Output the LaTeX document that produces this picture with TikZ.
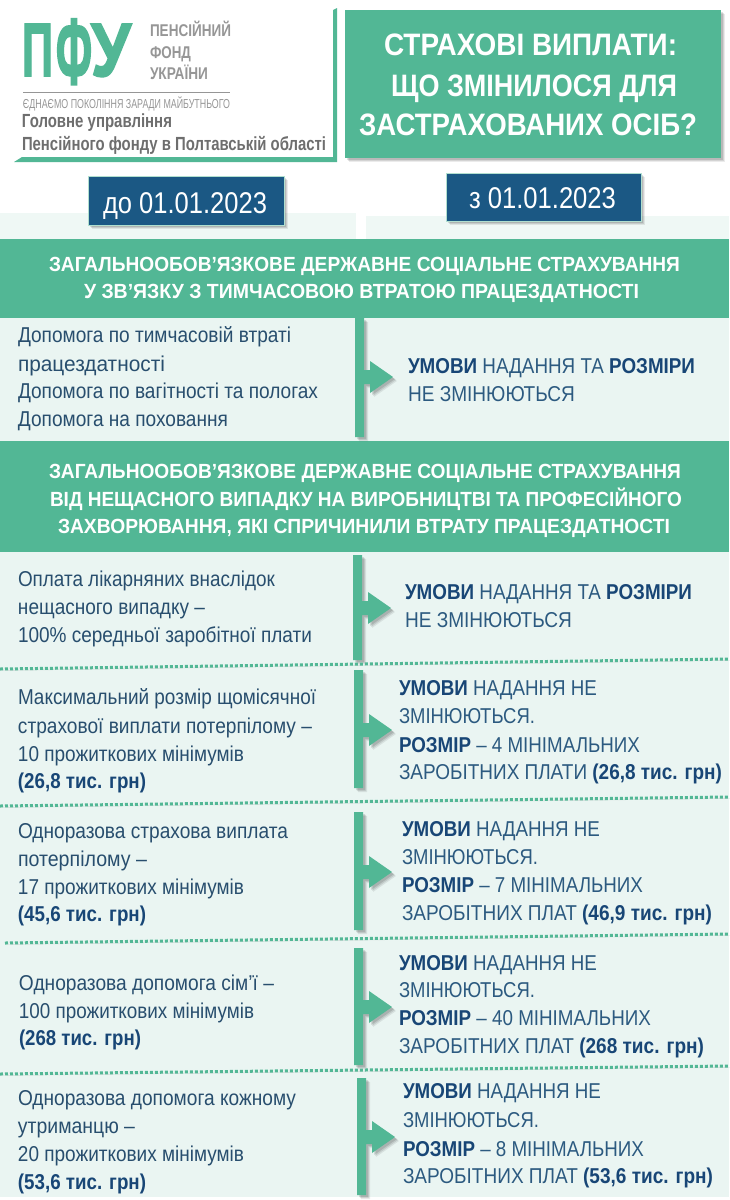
\documentclass[tikz,border=0pt]{standalone}
\usepackage{graphicx}
\usepackage{fontspec}
\setmainfont{Liberation Sans}
\newfontfamily\logofont[FakeBold=2.5]{Liberation Sans Bold}
\definecolor{pfugreen}{RGB}{82,183,149}
\definecolor{pfublue}{RGB}{27,88,132}
\definecolor{panelc}{RGB}{234,245,242}
\definecolor{paneltop}{RGB}{239,248,245}
\definecolor{leftc}{RGB}{40,78,110}
\definecolor{rightc}{RGB}{44,90,128}
\definecolor{boldc}{RGB}{24,70,118}
\definecolor{logogray}{RGB}{150,150,150}
\definecolor{logodark}{RGB}{110,110,110}
\newcommand\bl[1]{\textbf{\textcolor{boldc}{#1}}}
% one printed line: name, x, baseline y, right x, style, text
\newcommand\tline[6]{%
  \pgfmathsetmacro\tlw{#4-#2}%
  \node[txt,#5] (#1) at (#2,#3) {\resizebox{\tlw pt}{\height}{#6}};}
\tikzset{
  txt/.style={anchor=base west,inner sep=0pt,outer sep=0pt},
  lefttxt/.style={text=leftc,font=\fontsize{21.5}{24}\selectfont},
  righttxt/.style={text=rightc,font=\fontsize{21.5}{24}\selectfont},
  headtxt/.style={text=white,font=\bfseries\fontsize{20.5}{24}\selectfont},
  titletxt/.style={text=white,font=\bfseries\fontsize{31}{36}\selectfont},
  datetxt/.style={text=white,font=\fontsize{30}{34}\selectfont},
  logotxt/.style={text=logogray,font=\bfseries\fontsize{17}{20}\selectfont},
  softshadow/.style={
    preaction={fill=black,opacity=.08,transform canvas={shift={(4pt,-4pt)}}},
    preaction={fill=black,opacity=.10,transform canvas={shift={(3pt,-3pt)}}},
    preaction={fill=black,opacity=.12,transform canvas={shift={(2pt,-2pt)}}}},
  band/.style={fill=pfugreen},
  datebox/.style={fill=pfublue,draw=pfugreen!45,line width=1pt,softshadow},
  barshape/.style={fill=pfugreen,softshadow},
  dotline/.style={draw=pfugreen,line width=3pt,dash pattern=on 3pt off 2pt,
    preaction={draw=black,opacity=.12,transform canvas={shift={(1pt,-1.5pt)}}}}
}
\newcommand\barrow[4]{% bar x-left, top, bottom, arrow centre y
  \fill[barshape] (#1,#2) -- (#1+9,#2) -- (#1+9,#4-7) -- (#1+15,#4-7) -- (#1+15,#4-16)
   -- (#1+38,#4) -- (#1+15,#4+16) -- (#1+15,#4+7) -- (#1+9,#4+7) -- (#1+9,#3) -- (#1,#3) -- cycle;}
\begin{document}
\begin{tikzpicture}[x=1pt,y=-1pt]
\useasboundingbox (0,0) rectangle (729,1200);
\fill[white] (0,0) rectangle (729,1200);
% panels
\fill[paneltop] (0,213) rectangle (356,320);
\fill[paneltop] (366,216) rectangle (729,320);
\fill[panelc] (0,318) rectangle (729,1197);
% bands
\fill[band] (0,239) rectangle (729,318);
\fill[band] (0,441) rectangle (729,552);
% logo panel frame
\fill[pfugreen] (337,8) -- (337,162) -- (14,162) -- (22,157) -- (333,157) -- (333,10) -- cycle;
% title box
\fill[pfugreen,softshadow] (345,10) rectangle (721,158);
% date boxes
\fill[datebox] (88,176) rectangle (284,225);
\fill[datebox] (446,173) rectangle (641,221);
% bars with arrows
\barrow{355}{318}{437}{377}
\barrow{353}{555}{660}{608}
\barrow{354}{670}{788}{730}
\barrow{354}{812}{930}{872}
\barrow{354}{948}{1065}{1007}
\barrow{357}{1078}{1195}{1137}
% dotted dividers
\coordinate (d1a) at (0,669); \coordinate (d1b) at (729,659);
\coordinate (d2a) at (0,806); \coordinate (d2b) at (729,797);
\coordinate (d3a) at (5,943); \coordinate (d3b) at (729,934);
\coordinate (d4a) at (0,1074); \coordinate (d4b) at (729,1066);
\draw[dotline] (d1a) -- (d1b);
\draw[dotline] (d2a) -- (d2b);
\draw[dotline] (d3a) -- (d3b);
\draw[dotline] (d4a) -- (d4b);
% logo
\node[txt,text=pfugreen,font=\logofont] (logo) at (22,76) {%
  \resizebox{31pt}{52pt}{П}\hspace{3pt}\raisebox{-8pt}{\resizebox{36pt}{65pt}{Ф}}\hspace{-1pt}\resizebox{40pt}{52pt}{У}};
\tline{lg1}{150}{36}{231}{logotxt}{ПЕНСІЙНИЙ}
\tline{lg2}{150}{58}{191}{logotxt}{ФОНД}
\tline{lg3}{150}{79}{208}{logotxt}{УКРАЇНИ}
\coordinate (lgla) at (23,92); \coordinate (lglb) at (230,92);
\draw[logogray,line width=.8pt] (lgla) -- (lglb);
\tline{lg4}{23}{108}{230}{text=logogray,font=\fontsize{13}{15}\selectfont}{ЄДНАЄМО ПОКОЛІННЯ ЗАРАДИ МАЙБУТНЬОГО}
\tline{lg5}{22}{127}{172}{text=logodark,font=\bfseries\fontsize{19}{22}\selectfont}{Головне управління}
\tline{lg6}{22}{150}{326}{text=logodark,font=\bfseries\fontsize{19}{22}\selectfont}{Пенсійного фонду в Полтавській області}
% title
\tline{t1}{384}{55}{677}{titletxt}{СТРАХОВІ ВИПЛАТИ:}
\tline{t2}{391}{96}{677}{titletxt}{ЩО ЗМІНИЛОСЯ ДЛЯ}
\tline{t3}{359}{135}{697}{titletxt}{ЗАСТРАХОВАНИХ ОСІБ?}
% dates
\tline{d1}{103}{213}{267}{datetxt}{до 01.01.2023}
\tline{d2}{469}{208}{616}{datetxt}{з 01.01.2023}
% headers
\tline{h1}{49}{271}{680}{headtxt}{ЗАГАЛЬНООБОВ’ЯЗКОВЕ ДЕРЖАВНЕ СОЦІАЛЬНЕ СТРАХУВАННЯ}
\tline{h2}{84}{298}{639}{headtxt}{У ЗВ’ЯЗКУ З ТИМЧАСОВОЮ ВТРАТОЮ ПРАЦЕЗДАТНОСТІ}
\tline{h3}{49}{478}{681}{headtxt}{ЗАГАЛЬНООБОВ’ЯЗКОВЕ ДЕРЖАВНЕ СОЦІАЛЬНЕ СТРАХУВАННЯ}
\tline{h4}{50}{506}{682}{headtxt}{ВІД НЕЩАСНОГО ВИПАДКУ НА ВИРОБНИЦТВІ ТА ПРОФЕСІЙНОГО}
\tline{h5}{58}{533}{670}{headtxt}{ЗАХВОРЮВАННЯ, ЯКІ СПРИЧИНИЛИ ВТРАТУ ПРАЦЕЗДАТНОСТІ}
% block 1
\tline{a1}{18}{342}{291}{lefttxt}{Допомога по тимчасовій втраті}
\tline{a2}{18}{371}{165}{lefttxt}{працездатності}
\tline{a3}{18}{398}{318}{lefttxt}{Допомога по вагітності та пологах}
\tline{a4}{18}{426}{228}{lefttxt}{Допомога на поховання}
\tline{a5}{408}{373}{695}{righttxt}{\bl{УМОВИ} НАДАННЯ ТА \bl{РОЗМІРИ}}
\tline{a6}{408}{401}{575}{righttxt}{НЕ ЗМІНЮЮТЬСЯ}
% block 2
\tline{b1}{18}{586}{275}{lefttxt}{Оплата лікарняних внаслідок}
\tline{b2}{18}{614}{205}{lefttxt}{нещасного випадку –}
\tline{b3}{18}{642}{312}{lefttxt}{100\% середньої заробітної плати}
\tline{b4}{405}{599}{692}{righttxt}{\bl{УМОВИ} НАДАННЯ ТА \bl{РОЗМІРИ}}
\tline{b5}{405}{627}{572}{righttxt}{НЕ ЗМІНЮЮТЬСЯ}
% block 3
\tline{c1}{18}{704}{316}{lefttxt}{Максимальний розмір щомісячної}
\tline{c2}{18}{733}{312}{lefttxt}{страхової виплати потерпілому –}
\tline{c3}{18}{761}{244}{lefttxt}{10 прожиткових мінімумів}
\tline{c4}{18}{788}{146}{lefttxt}{\bl{(26,8 тис. грн)}}
\tline{c5}{399}{695}{597}{righttxt}{\bl{УМОВИ} НАДАННЯ НЕ}
\tline{c6}{399}{723}{535}{righttxt}{ЗМІНЮЮТЬСЯ.}
\tline{c7}{399}{752}{640}{righttxt}{\bl{РОЗМІР} – 4 МІНІМАЛЬНИХ}
\tline{c8}{399}{779}{722}{righttxt}{ЗАРОБІТНИХ ПЛАТИ \bl{(26,8 тис. грн)}}
% block 4
\tline{e1}{18}{838}{288}{lefttxt}{Одноразова страхова виплата}
\tline{e2}{18}{866}{147}{lefttxt}{потерпілому –}
\tline{e3}{18}{894}{244}{lefttxt}{17 прожиткових мінімумів}
\tline{e4}{18}{921}{146}{lefttxt}{\bl{(45,6 тис. грн)}}
\tline{e5}{402}{836}{600}{righttxt}{\bl{УМОВИ} НАДАННЯ НЕ}
\tline{e6}{402}{864}{538}{righttxt}{ЗМІНЮЮТЬСЯ.}
\tline{e7}{402}{892}{643}{righttxt}{\bl{РОЗМІР} – 7 МІНІМАЛЬНИХ}
\tline{e8}{402}{920}{712}{righttxt}{ЗАРОБІТНИХ ПЛАТ \bl{(46,9 тис. грн)}}
% block 5
\tline{f1}{19}{990}{274}{lefttxt}{Одноразова допомога сім’ї –}
\tline{f2}{19}{1018}{254}{lefttxt}{100 прожиткових мінімумів}
\tline{f3}{19}{1045}{141}{lefttxt}{\bl{(268 тис. грн)}}
\tline{f4}{399}{970}{597}{righttxt}{\bl{УМОВИ} НАДАННЯ НЕ}
\tline{f5}{399}{997}{535}{righttxt}{ЗМІНЮЮТЬСЯ.}
\tline{f6}{399}{1025}{651}{righttxt}{\bl{РОЗМІР} – 40 МІНІМАЛЬНИХ}
\tline{f7}{399}{1053}{704}{righttxt}{ЗАРОБІТНИХ ПЛАТ \bl{(268 тис. грн)}}
% block 6
\tline{g1}{18}{1105}{296}{lefttxt}{Одноразова допомога кожному}
\tline{g2}{18}{1133}{135}{lefttxt}{утриманцю –}
\tline{g3}{18}{1161}{244}{lefttxt}{20 прожиткових мінімумів}
\tline{g4}{18}{1189}{146}{lefttxt}{\bl{(53,6 тис. грн)}}
\tline{g5}{403}{1098}{601}{righttxt}{\bl{УМОВИ} НАДАННЯ НЕ}
\tline{g6}{403}{1127}{539}{righttxt}{ЗМІНЮЮТЬСЯ.}
\tline{g7}{403}{1156}{644}{righttxt}{\bl{РОЗМІР} – 8 МІНІМАЛЬНИХ}
\tline{g8}{403}{1183}{713}{righttxt}{ЗАРОБІТНИХ ПЛАТ \bl{(53,6 тис. грн)}}
\end{tikzpicture}
\end{document}
